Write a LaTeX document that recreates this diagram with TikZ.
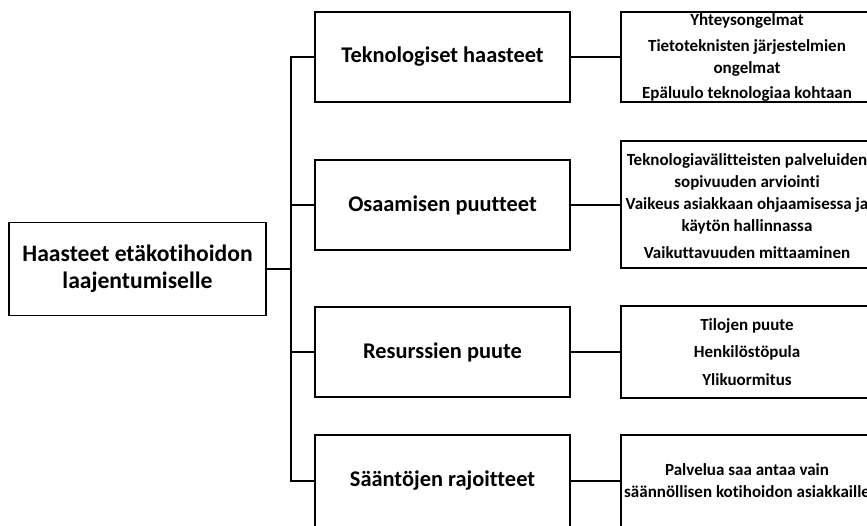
\documentclass[tikz,border=0pt]{standalone}
\usepackage{fontspec}
\setmainfont[Ligatures = NoCommon]{Carlito}
\usepackage{tikz}
\usetikzlibrary{positioning,calc}

\begin{document}
\begin{tikzpicture}[x = 1pt, y = -1pt,
  box/.style = {draw, line width = 1.2pt, inner sep = 0pt},
  mainbox/.style = {box, minimum width = 257pt, minimum height = 93pt},
  midbox/.style = {box, minimum width = 255pt, minimum height = 90pt},
  leaf/.style = {box, minimum width = 252pt},
  bigtext/.style = {align = center, font = \bfseries\fontsize{22.4}{27}\selectfont},
  smalltext/.style = {align = center, inner sep = 0pt, font = \bfseries\fontsize{17}{22}\selectfont},
  link/.style = {line width = 1.2pt}]
\useasboundingbox (0,0) rectangle (867,525);
\clip (0,0) rectangle (867,525);
% root
\node[mainbox] (root) at (137.5,269) {};
\node[bigtext, font = \bfseries\fontsize{23.6}{27}\selectfont] (roottext) at (root.center) {Haasteet etäkotihoidon\\laajentumiselle};
\coordinate (trunk) at (291,269);
% middle column
\node[midbox] (m1) at (442.5,57) {};
\node[bigtext] (m1text) at (m1.center) {Teknologiset haasteet};
\node[midbox] (m2) at (442.5,205) {};
\node[bigtext] (m2text) at (m2.center) {Osaamisen puutteet};
\node[midbox] (m3) at (442.5,352) {};
\node[bigtext] (m3text) at (m3.center) {Resurssien puute};
\node[midbox, minimum height = 92pt] (m4) at (442.5,481) {};
\node[bigtext] (m4text) at (m4.center) {Sääntöjen rajoitteet};
% right column
\node[leaf, minimum height = 90pt] (r1) at (747,57) {};
\node[smalltext] (r1text) at (r1.center) {Yhteysongelmat\\[4pt]Tietoteknisten järjestelmien\\ongelmat\\[3pt]Epäluulo teknologiaa kohtaan};
\node[leaf, minimum height = 127pt] (r2) at (747,204.5) {};
\node[smalltext] (r2text) at ([yshift = -2pt]r2.center) {Teknologiavälitteisten palveluiden\\sopivuuden arviointi\\Vaikeus asiakkaan ohjaamisessa ja\\käytön hallinnassa\\[5pt]Vaikuttavuuden mittaaminen};
\node[leaf, minimum height = 92pt] (r3) at (747,352) {};
\node[smalltext] (r3text) at (r3.center) {Tilojen puute\\[5pt]Henkilöstöpula\\[6pt]Ylikuormitus};
\node[leaf, minimum height = 92pt] (r4) at (747,481) {};
\node[smalltext] (r4text) at (r4.center) {Palvelua saa antaa vain\\säännöllisen kotihoidon asiakkaille};
% connectors
\draw[link] (root.east) -- (trunk);
\draw[link] (m1.west) -- (m1.west -| trunk) -- (m4.west -| trunk) -- (m4.west);
\draw[link] (m2.west) -- (m2.west -| trunk);
\draw[link] (m3.west) -- (m3.west -| trunk);
\draw[link] (m1.east) -- (m1.east -| r1.west);
\draw[link] (m2.east) -- (m2.east -| r2.west);
\draw[link] (m3.east) -- (m3.east -| r3.west);
\draw[link] (m4.east) -- (m4.east -| r4.west);
\end{tikzpicture}
\end{document}
